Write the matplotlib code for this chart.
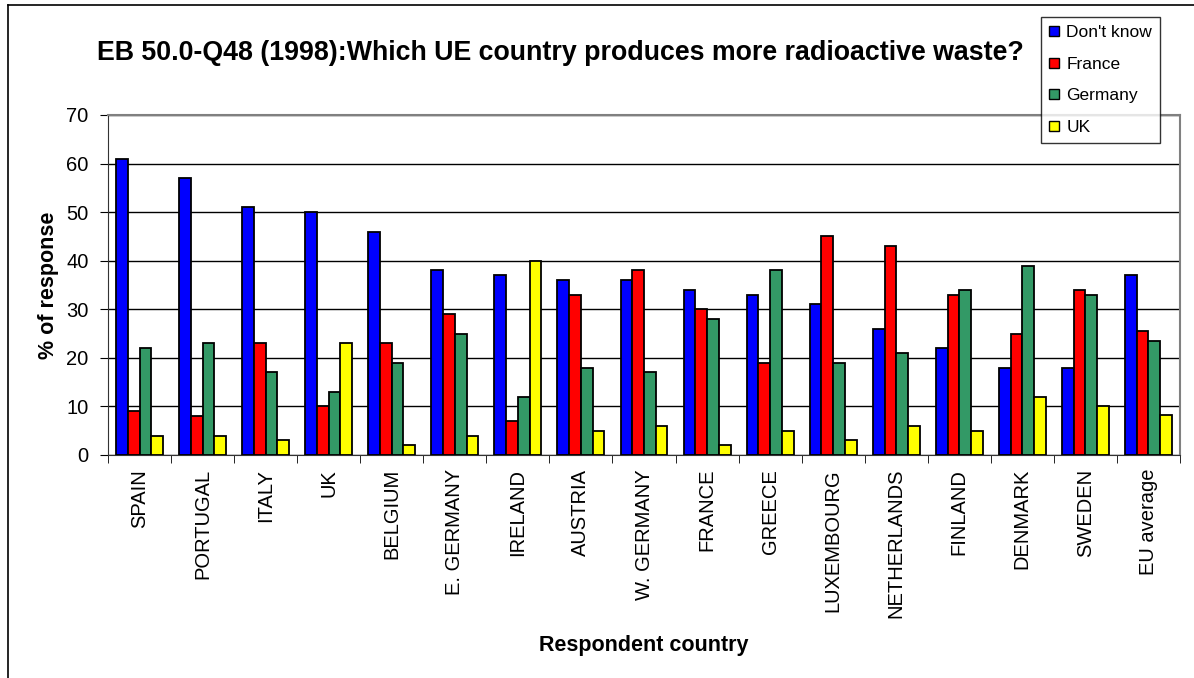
#!/usr/bin/env python3

# import modules
from matplotlib import pyplot as plt
from matplotlib.lines import Line2D
import numpy as np

plt.rcParams['font.family'] = ['Liberation Sans', 'DejaVu Sans']

# survey data (% of response)
countries = ['SPAIN', 'PORTUGAL', 'ITALY', 'UK', 'BELGIUM', 'E. GERMANY', 'IRELAND',
             'AUSTRIA', 'W. GERMANY', 'FRANCE', 'GREECE', 'LUXEMBOURG', 'NETHERLANDS',
             'FINLAND', 'DENMARK', 'SWEDEN', 'EU average']
dont_know = [61, 57, 51, 50, 46, 38, 37, 36, 36, 34, 33, 31, 26, 22, 18, 18, 37]
france = [9, 8, 23, 10, 23, 29, 7, 33, 38, 30, 19, 45, 43, 33, 25, 34, 25.5]
germany = [22, 23, 17, 13, 19, 25, 12, 18, 17, 28, 38, 19, 21, 34, 39, 33, 23.5]
uk = [4, 4, 3, 23, 2, 4, 40, 5, 6, 2, 5, 3, 6, 5, 12, 10, 8.3]

series = [('Don\'t know', dont_know, '#0000ff'),
          ('France', france, '#ff0000'),
          ('Germany', germany, '#339966'),
          ('UK', uk, '#ffff00')]

# plot
fig = plt.figure(figsize=(11.94, 6.78), dpi=100)
ax = fig.add_axes([108 / 1194, 1 - 455 / 678, (1180 - 108) / 1194, (455 - 115) / 678])

x = np.arange(len(countries))
width = 0.186
for i, (name, values, color) in enumerate(series):
    ax.bar(x + (i - 1.5) * width, values, width, color=color, edgecolor='black',
           linewidth=1.3, zorder=3, label=name)

ax.set_xlim(-0.5, len(countries) - 0.5)
ax.set_ylim(0, 70)
ax.set_yticks(range(0, 71, 10))
ax.yaxis.grid(True, color='black', linewidth=1, zorder=0)
ax.tick_params(axis='y', direction='out', length=6, labelsize=14.5, pad=8)

# category labels centered, tick marks between categories
ax.set_xticks(x)
ax.set_xticklabels(countries, rotation=90, fontsize=14.5)
ax.set_xticks(np.arange(-0.5, len(countries)), minor=True)
ax.tick_params(axis='x', which='major', length=0, pad=10)
ax.tick_params(axis='x', which='minor', direction='out', length=6)

for side in ['left', 'bottom']:
    ax.spines[side].set_color('#333333')
for side in ['top', 'right']:
    ax.spines[side].set_color('#808080')
    ax.spines[side].set_linewidth(1.5)

ax.set_ylabel('% of response', fontsize=15.5, fontweight='bold', labelpad=5)
ax.set_xlabel('Respondent country', fontsize=15.5, fontweight='bold', labelpad=12)

fig.text(560 / 1194, 1 - 53 / 678,
         'EB 50.0-Q48 (1998):Which UE country produces more radioactive waste?',
         fontsize=19.3, fontweight='bold', ha='center', va='center')

# legend with small square keys
handles = [Line2D([], [], marker='s', linestyle='', markersize=7.5, markerfacecolor=c,
                  markeredgecolor='black', markeredgewidth=1) for _, _, c in series]
leg = fig.legend(handles, [s[0] for s in series], loc='upper left',
                 bbox_to_anchor=(1041 / 1194, 1 - 17 / 678), fontsize=12.5,
                 frameon=True, fancybox=False, borderaxespad=0, handlelength=0.6,
                 handletextpad=0.4, labelspacing=0.95, borderpad=0.45)
leg.get_frame().set_edgecolor('black')
leg.get_frame().set_linewidth(1)

# outer chart border
fig.add_artist(Line2D([8 / 1194, 8 / 1194], [0, 1 - 5 / 678], color='black', linewidth=1.2))
fig.add_artist(Line2D([8 / 1194, 1], [1 - 5 / 678, 1 - 5 / 678], color='black', linewidth=1.2))

# write to disk
plt.savefig('out.png', dpi=100)
